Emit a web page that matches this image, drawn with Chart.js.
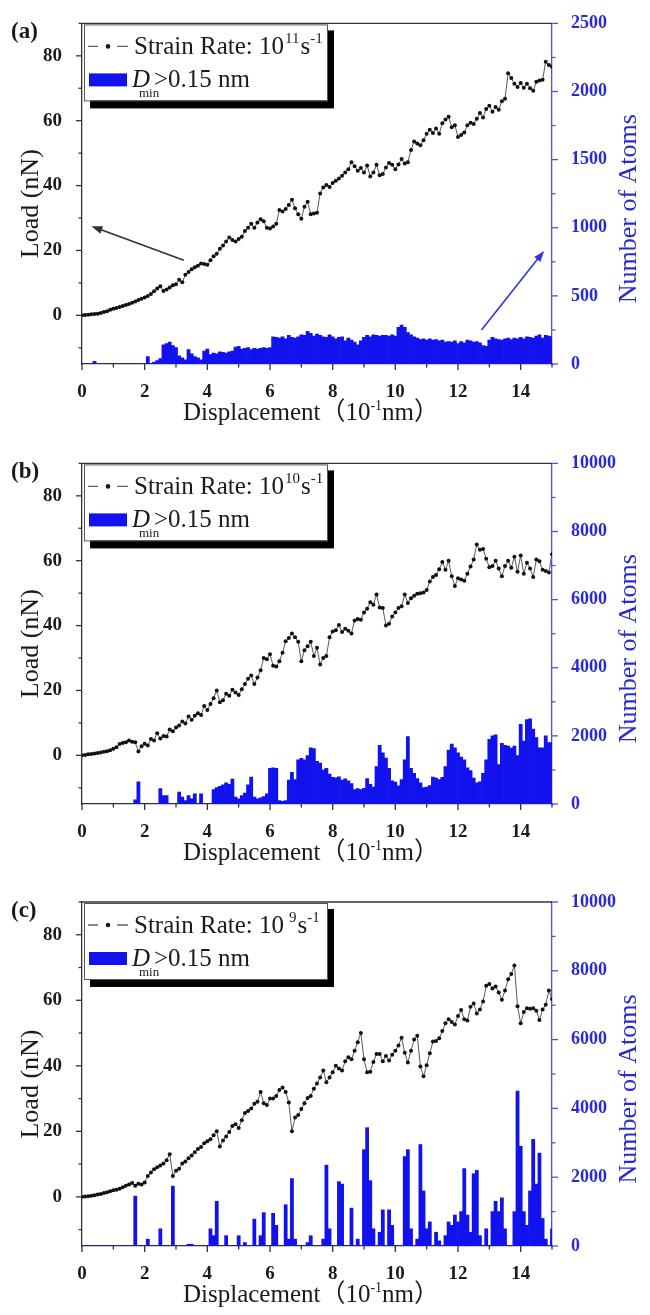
<!DOCTYPE html>
<html>
<head>
<meta charset="utf-8">
<title>Load and atom count vs displacement</title>
<script src="https://cdn.jsdelivr.net/npm/chart.js@4.4.1/dist/chart.umd.min.js"></script>
<style>
  body { margin: 0; background: #fff; }
  .panel { position: absolute; left: 0; width: 650px; }
</style>
</head>
<body>
<div class="panel" style="top:0px"><canvas id="chart-a" width="650" height="440"></canvas></div>
<div class="panel" style="top:440px"><canvas id="chart-b" width="650" height="430"></canvas></div>
<div class="panel" style="top:870px"><canvas id="chart-c" width="650" height="445"></canvas></div>
<script>
// displacement grid (10^-1 nm)
const displacement = [
    0, 0.1, 0.2, 0.3, 0.4, 0.5, 0.6, 0.7, 0.8, 0.9,
    1, 1.1, 1.2, 1.3, 1.4, 1.5, 1.6, 1.7, 1.8, 1.9,
    2, 2.1, 2.2, 2.3, 2.4, 2.5, 2.6, 2.7, 2.8, 2.9,
    3, 3.1, 3.2, 3.3, 3.4, 3.5, 3.6, 3.7, 3.8, 3.9,
    4, 4.1, 4.2, 4.3, 4.4, 4.5, 4.6, 4.7, 4.8, 4.9,
    5, 5.1, 5.2, 5.3, 5.4, 5.5, 5.6, 5.7, 5.8, 5.9,
    6, 6.1, 6.2, 6.3, 6.4, 6.5, 6.6, 6.7, 6.8, 6.9,
    7, 7.1, 7.2, 7.3, 7.4, 7.5, 7.6, 7.7, 7.8, 7.9,
    8, 8.1, 8.2, 8.3, 8.4, 8.5, 8.6, 8.7, 8.8, 8.9,
    9, 9.1, 9.2, 9.3, 9.4, 9.5, 9.6, 9.7, 9.8, 9.9,
    10, 10.1, 10.2, 10.3, 10.4, 10.5, 10.6, 10.7, 10.8, 10.9,
    11, 11.1, 11.2, 11.3, 11.4, 11.5, 11.6, 11.7, 11.8, 11.9,
    12, 12.1, 12.2, 12.3, 12.4, 12.5, 12.6, 12.7, 12.8, 12.9,
    13, 13.1, 13.2, 13.3, 13.4, 13.5, 13.6, 13.7, 13.8, 13.9,
    14, 14.1, 14.2, 14.3, 14.4, 14.5, 14.6, 14.7, 14.8, 14.9,
    15
];

// (a) strain rate 10^11 s^-1
const loadA = [
    0.0, 0.1, 0.2, 0.3, 0.4, 0.5, 0.7, 1.0, 1.3, 1.7,
    2.0, 2.3, 2.6, 2.9, 3.2, 3.5, 3.9, 4.3, 4.7, 5.1,
    5.5, 6.0, 6.6, 7.4, 8.3, 9.0, 7.5, 8.0, 8.6, 9.3,
    9.6, 11.0, 10.2, 12.5, 13.4, 14.2, 14.8, 15.3, 16.0, 15.8,
    15.6, 17.0, 18.2, 19.0, 20.5, 21.5, 22.8, 24.0, 23.2, 22.8,
    23.5, 24.2, 26.0, 27.0, 28.2, 27.0, 28.6, 29.6, 29.0, 27.0,
    26.8, 27.4, 28.2, 32.5, 32.0, 32.8, 34.0, 35.6, 33.0, 31.2,
    29.8, 33.5, 35.0, 31.2, 31.4, 31.6, 37.6, 39.4, 40.2, 39.6,
    40.8, 41.5, 42.2, 43.0, 44.0, 45.0, 47.2, 46.0, 44.6, 45.4,
    44.0, 46.2, 42.8, 44.0, 46.4, 43.2, 43.6, 45.6, 47.0, 46.4,
    45.0, 46.5, 48.2, 46.8, 47.2, 51.0, 53.6, 53.0, 52.4, 54.0,
    56.0, 57.2, 56.2, 57.6, 56.0, 59.2, 60.4, 61.2, 58.0, 58.6,
    55.0, 55.6, 56.4, 58.6, 59.4, 59.0, 60.6, 62.4, 61.0, 63.6,
    64.6, 62.8, 64.2, 63.4, 66.0, 66.8, 74.6, 73.2, 71.4, 70.4,
    71.6, 70.2, 71.4, 70.0, 69.2, 72.0, 72.4, 72.6, 78.2, 77.2,
    76.6
];
const atomsA = [
    0, 0, 0, 0, 20, 0, 0, 0, 0, 0,
    0, 0, 0, 0, 0, 0, 0, 0, 0, 0,
    0, 55, 0, 15, 25, 40, 140, 150, 160, 135,
    120, 60, 45, 30, 105, 75, 55, 45, 30, 95,
    110, 70, 80, 75, 90, 85, 80, 90, 95, 125,
    130, 110, 115, 120, 105, 115, 110, 115, 120, 115,
    120, 200, 195, 190, 200, 185, 210, 195, 190, 200,
    215, 210, 240, 225, 205, 220, 210, 200, 195, 215,
    200, 185, 195, 200, 170, 190, 175, 160, 140, 170,
    195, 210, 200, 215, 210, 205, 210, 210, 205, 215,
    205, 270, 285, 270, 230, 215, 200, 190, 180, 185,
    175, 185, 175, 180, 170, 175, 160, 165, 160, 170,
    150, 165, 155, 175, 170, 160, 165, 155, 135, 130,
    175, 195, 185, 180, 175, 185, 190, 180, 190, 185,
    195, 185, 200, 195, 190, 205, 215, 190, 210, 205,
    200
];

// (b) strain rate 10^10 s^-1
const loadB = [
    0.0, 0.1, 0.3, 0.4, 0.6, 0.7, 0.9, 1.1, 1.3, 1.6,
    2.0, 2.5, 3.5, 3.8, 4.0, 4.6, 4.2, 4.0, 1.2, 2.8,
    3.6, 3.0, 5.0, 4.6, 6.8, 5.2, 6.0, 5.8, 8.0, 7.4,
    8.6, 9.2, 10.4, 9.8, 12.0, 11.0, 12.2, 13.0, 12.4, 15.2,
    14.0, 15.8, 17.6, 20.0, 16.4, 17.0, 19.0, 18.4, 20.2, 19.4,
    18.6, 20.4, 22.0, 23.6, 24.6, 22.0, 24.0, 26.2, 30.0, 29.6,
    31.2, 27.6, 27.4, 29.0, 31.6, 35.2, 36.2, 37.6, 36.4, 35.0,
    29.0, 32.4, 33.6, 35.0, 30.6, 33.2, 28.0, 30.0, 30.6, 36.4,
    38.2, 38.6, 40.2, 38.0, 39.0, 38.4, 37.6, 41.6, 42.0, 41.8,
    44.0, 45.2, 47.2, 46.4, 49.6, 45.6, 45.4, 40.0, 40.6, 42.8,
    44.0, 45.4, 46.0, 49.6, 47.0, 48.4, 49.2, 49.8, 50.0, 50.2,
    51.0, 53.6, 55.0, 55.6, 57.4, 59.6, 57.2, 60.0, 55.2, 52.2,
    54.6, 54.2, 53.8, 56.0, 58.2, 60.4, 65.0, 63.4, 63.6, 60.6,
    58.0, 58.4, 60.0, 57.6, 55.2, 58.4, 60.0, 57.8, 61.2, 56.6,
    61.6, 56.0, 59.4, 57.6, 55.0, 60.4, 59.8, 57.2, 56.8, 56.4,
    62.0
];
const atomsB = [
    0, 0, 0, 0, 0, 0, 0, 0, 0, 0,
    0, 0, 0, 0, 0, 0, 0, 120, 650, 0,
    0, 0, 0, 0, 0, 450, 250, 250, 0, 0,
    0, 350, 200, 100, 250, 150, 300, 0, 300, 0,
    0, 0, 420, 480, 520, 560, 620, 580, 730, 200,
    150, 250, 320, 560, 790, 200, 150, 180, 220, 300,
    1050, 1060, 1050, 100, 80, 100, 700, 930, 720, 1300,
    1340, 1300, 1420, 1650, 1630, 1250, 1200, 1000, 1050, 880,
    780, 770, 800, 700, 740, 680, 600, 420, 450, 420,
    460, 750, 580, 500, 1100, 1720, 1500, 1350, 1050, 680,
    640, 530, 720, 1300, 1980, 1050, 900, 750, 620, 480,
    500, 540, 790, 760, 720, 780, 1100, 1580, 1760, 1650,
    1500, 1380, 1300, 1060, 980, 760, 620, 650, 900, 1300,
    1900, 2000, 2030, 1160, 1780, 1720, 1700, 1640, 1700, 1420,
    2340, 1850, 2480, 2500, 2200, 1950, 1650, 1650, 2000, 1800,
    1800
];

// (c) strain rate 10^9 s^-1
const loadC = [
    0.0, 0.1, 0.2, 0.3, 0.5, 0.7, 0.9, 1.2, 1.4, 1.7,
    2.0, 2.2, 2.5, 2.9, 3.4, 3.8, 4.2, 3.4, 4.0, 3.8,
    4.4, 6.4, 7.4, 8.4, 9.0, 9.6, 10.2, 11.2, 13.0, 6.4,
    8.0, 8.6, 10.2, 10.8, 11.8, 12.6, 13.6, 14.6, 15.2, 16.4,
    17.0, 17.6, 18.8, 20.0, 15.4, 17.2, 18.4, 19.8, 21.6, 22.2,
    21.0, 23.4, 25.6, 26.2, 27.0, 28.4, 29.0, 32.0, 28.6, 28.0,
    30.0, 30.0, 30.8, 32.6, 33.4, 32.0, 28.8, 20.0, 24.2, 25.0,
    26.8, 28.6, 30.2, 30.8, 33.0, 34.6, 36.4, 38.6, 35.0, 36.4,
    38.0, 40.0, 39.2, 38.6, 41.4, 42.6, 42.0, 44.6, 47.2, 50.0,
    42.0, 38.0, 38.2, 41.2, 43.6, 43.6, 41.4, 43.0, 41.6, 43.4,
    44.6, 46.2, 48.6, 44.0, 41.0, 44.6, 48.0, 49.2, 39.8, 36.8,
    40.2, 43.8, 47.4, 47.6, 48.4, 50.6, 53.0, 54.2, 53.4, 52.6,
    55.2, 57.0, 54.2, 53.8, 58.0, 59.0, 56.0, 57.2, 59.6, 64.4,
    65.0, 63.6, 64.2, 62.4, 60.2, 63.0, 66.4, 68.0, 70.6, 58.2,
    53.0, 56.4, 57.6, 57.4, 57.6, 56.8, 54.0, 57.2, 58.6, 63.0,
    60.4
];
const atomsC = [
    0, 0, 0, 0, 0, 0, 0, 0, 0, 0,
    0, 0, 0, 0, 0, 0, 0, 1450, 0, 0,
    0, 200, 0, 0, 0, 500, 0, 0, 0, 1740,
    0, 0, 0, 0, 50, 50, 0, 0, 0, 0,
    0, 500, 300, 1300, 0, 0, 300, 0, 0, 0,
    300, 0, 100, 0, 0, 780, 0, 300, 970, 0,
    0, 950, 600, 0, 0, 1200, 200, 1960, 200, 0,
    0, 0, 100, 300, 0, 0, 0, 200, 2350, 500,
    0, 0, 1870, 1800, 0, 0, 1100, 0, 200, 0,
    2800, 3440, 1900, 500, 0, 400, 1050, 0, 1050, 600,
    0, 0, 0, 2600, 2800, 500, 0, 200, 2950, 1600,
    500, 700, 0, 400, 150, 0, 300, 700, 600, 900,
    700, 1000, 2250, 900, 400, 2100, 2200, 300, 0, 500,
    0, 1000, 1300, 1000, 1400, 500, 0, 0, 1000, 4500,
    2900, 1000, 600, 1600, 3100, 1800, 2700, 800, 200, 0,
    500
];

// ticks
const dispTicks = [0, 1, 2, 3, 4, 5, 6, 7, 8, 9, 10, 11, 12, 13, 14, 15];
const loadTicks = [-10, 0, 10, 20, 30, 40, 50, 60, 70, 80, 90];
const atomTicksA = [0, 250, 500, 750, 1000, 1250, 1500, 1750, 2000, 2250, 2500];
const atomTicksBC = [0, 1000, 2000, 3000, 4000, 5000, 6000, 7000, 8000, 9000, 10000];
const rateExponents = ["11", "10", "9"];

const SERIF = "'Liberation Serif', 'Times New Roman', 'Noto Sans CJK SC', serif";
const INK = "#1a1a1a";
const AXIS_BLUE = "#5050e8";
const LABEL_BLUE = "#2a2ad2";
const BAR_BLUE = "#1212ee";

function arrow(ctx, x1, y1, x2, y2, color) {
    const ang = Math.atan2(y2 - y1, x2 - x1);
    ctx.strokeStyle = color;
    ctx.fillStyle = color;
    ctx.lineWidth = 1.6;
    ctx.beginPath();
    ctx.moveTo(x1, y1);
    ctx.lineTo(x2 - 6 * Math.cos(ang), y2 - 6 * Math.sin(ang));
    ctx.stroke();
    ctx.beginPath();
    ctx.moveTo(x2, y2);
    ctx.lineTo(x2 - 11 * Math.cos(ang) + 4 * Math.sin(ang), y2 - 11 * Math.sin(ang) - 4 * Math.cos(ang));
    ctx.lineTo(x2 - 11 * Math.cos(ang) - 4 * Math.sin(ang), y2 - 11 * Math.sin(ang) + 4 * Math.cos(ang));
    ctx.closePath();
    ctx.fill();
}

// draws text pieces one after another (for super/subscripts)
function richText(ctx, x, y, parts) {
    parts.forEach((p) => {
        ctx.font = (p.style || "") + " " + p.size + "px " + SERIF;
        x += p.dx || 0;
        ctx.fillText(p.text, x, y + (p.dy || 0));
        x += ctx.measureText(p.text).width;
    });
    return x;
}

function textWidth(ctx, parts) {
    let w = 0;
    parts.forEach((p) => {
        ctx.font = (p.style || "") + " " + p.size + "px " + SERIF;
        w += ctx.measureText(p.text).width + (p.dx || 0);
    });
    return w;
}

function tickMarks(ctx, scale, side, isMajor, color) {
    ctx.strokeStyle = color;
    ctx.lineWidth = 1.3;
    scale.ticks.forEach((t) => {
        const p = scale.getPixelForValue(t.value);
        const len = isMajor(t.value) ? 6 : 3.5;
        ctx.beginPath();
        if (side === "left") {
            ctx.moveTo(scale.right, p);
            ctx.lineTo(scale.right - len, p);
        } else if (side === "right") {
            ctx.moveTo(scale.left, p);
            ctx.lineTo(scale.left + len, p);
        } else {
            ctx.moveTo(p, scale.top);
            ctx.lineTo(p, scale.top + len);
        }
        ctx.stroke();
    });
}

const panelDecor = {
    id: "panelDecor",
    afterDraw(chart, args, opts) {
        const { ctx, chartArea: a, scales } = chart;
        ctx.save();

        // frame top line
        ctx.strokeStyle = "#333";
        ctx.lineWidth = 1.3;
        ctx.beginPath();
        ctx.moveTo(a.left, a.top);
        ctx.lineTo(a.right, a.top);
        ctx.stroke();

        tickMarks(ctx, scales.y, "left", (v) => v % 20 === 0, "#333");
        tickMarks(ctx, scales.x, "bottom", (v) => v % 2 === 0, "#333");
        tickMarks(ctx, scales.y2, "right", (v) => v % opts.atomMajor === 0, AXIS_BLUE);

        // panel tag
        ctx.fillStyle = INK;
        ctx.textAlign = "left";
        ctx.textBaseline = "alphabetic";
        ctx.font = "bold 23px " + SERIF;
        ctx.fillText(opts.tag, 11, a.top + 15);

        // axis titles
        const midY = (a.top + a.bottom) / 2;
        ctx.save();
        ctx.translate(31, midY + 10);
        ctx.rotate(-Math.PI / 2);
        ctx.textAlign = "center";
        ctx.textBaseline = "middle";
        ctx.font = "26px " + SERIF;
        ctx.fillText("Load (nN)", 0, 0);
        ctx.restore();

        ctx.save();
        ctx.translate(629, midY + 15);
        ctx.rotate(-Math.PI / 2);
        ctx.textAlign = "center";
        ctx.textBaseline = "middle";
        ctx.fillStyle = LABEL_BLUE;
        ctx.font = "26px " + SERIF;
        ctx.fillText("Number of Atoms", 0, 0);
        ctx.restore();

        const xTitle = [
            { text: "Displacement（10", size: 25 },
            { text: "-1", size: 14, dy: -10 },
            { text: "nm）", size: 25 },
        ];
        ctx.fillStyle = INK;
        richText(ctx, 311 - textWidth(ctx, xTitle) / 2, a.bottom + 56, xTitle);

        // legend box with shadow
        const bx = a.left + 2, by = a.top + 1, bw = 243, bh = 76;
        ctx.fillStyle = "#000";
        ctx.fillRect(bx + 6, by + 6, bw + 1, bh + 2);
        ctx.fillStyle = "#fff";
        ctx.fillRect(bx, by, bw, bh);
        ctx.strokeStyle = "#555";
        ctx.lineWidth = 1;
        ctx.strokeRect(bx + 0.5, by + 0.5, bw, bh);

        ctx.strokeStyle = "#666";
        ctx.lineWidth = 1.3;
        ctx.beginPath();
        ctx.moveTo(bx + 4, by + 22);
        ctx.lineTo(bx + 14, by + 22);
        ctx.moveTo(bx + 33, by + 22);
        ctx.lineTo(bx + 44, by + 22);
        ctx.stroke();
        ctx.fillStyle = INK;
        ctx.beginPath();
        ctx.arc(bx + 24, by + 22, 2.3, 0, Math.PI * 2);
        ctx.fill();

        richText(ctx, bx + 50, by + 30, [
            { text: "Strain Rate: 10", size: 25 },
            { text: opts.exponent, size: 15, dy: -11, dx: opts.exponent.length === 1 ? 5 : 1 },
            { text: "s", size: 25, dx: 1 },
            { text: "-1", size: 15, dy: -11 },
        ]);

        ctx.fillStyle = BAR_BLUE;
        ctx.fillRect(bx + 5, by + 49, 38, 13);
        ctx.fillStyle = INK;
        richText(ctx, bx + 48, by + 63, [{ text: "D", size: 25, style: "italic" }]);
        richText(ctx, bx + 55, by + 73, [{ text: "min", size: 13 }]);
        richText(ctx, bx + 70, by + 63, [{ text: ">0.15 nm", size: 25 }]);

        // pointer arrows (given in data units)
        (opts.arrows || []).forEach((ar) => {
            const ys = scales[ar.axis];
            arrow(ctx,
                scales.x.getPixelForValue(ar.from[0]), ys.getPixelForValue(ar.from[1]),
                scales.x.getPixelForValue(ar.to[0]), ys.getPixelForValue(ar.to[1]),
                ar.color);
        });

        ctx.restore();
    },
};

function makePanel(id, p) {
    const el = document.getElementById(id);
    const tickFont = { family: SERIF, size: 19, weight: "bold" };
    return new Chart(el.getContext("2d"), {
        type: "bar",
        data: {
            labels: displacement,
            datasets: [
                {
                    type: "line",
                    data: p.load,
                    yAxisID: "y",
                    borderColor: "#5a5a5a",
                    borderWidth: 1,
                    pointRadius: 2,
                    pointBackgroundColor: "#111",
                    pointBorderWidth: 0,
                    tension: 0,
                    order: 0,
                },
                {
                    type: "bar",
                    data: p.atoms,
                    yAxisID: "y2",
                    backgroundColor: BAR_BLUE,
                    borderWidth: 0,
                    barPercentage: 1,
                    categoryPercentage: 1,
                    clip: 0,
                    order: 1,
                },
            ],
        },
        options: {
            responsive: false,
            animation: false,
            layout: { padding: { top: p.padTop, left: 0, right: 0, bottom: 0 } },
            plugins: {
                legend: { display: false },
                tooltip: { enabled: false },
                panelDecor: {
                    tag: p.tag,
                    exponent: p.exponent,
                    atomMajor: p.atomMajor,
                    arrows: p.arrows,
                },
            },
            scales: {
                x: {
                    type: "linear",
                    offset: false,
                    min: 0,
                    max: 15,
                    afterBuildTicks: (s) => { s.ticks = dispTicks.map((v) => ({ value: v })); },
                    afterFit: (s) => { s.height = p.xHeight; },
                    grid: { display: false },
                    border: { display: true, color: "#333", width: 1.3 },
                    ticks: {
                        autoSkip: false,
                        maxRotation: 0,
                        padding: 9,
                        color: INK,
                        font: tickFont,
                        callback: (v) => (v % 2 === 0 && v < 15 ? v : ""),
                    },
                },
                y: {
                    position: "left",
                    min: -15,
                    max: 90,
                    afterBuildTicks: (s) => { s.ticks = loadTicks.map((v) => ({ value: v })); },
                    afterFit: (s) => { s.width = 82; },
                    grid: { display: false },
                    border: { display: true, color: "#333", width: 1.3 },
                    ticks: {
                        autoSkip: false,
                        padding: 12,
                        color: INK,
                        font: tickFont,
                        callback: (v) => (v % 20 === 0 && v >= 0 && v <= 80 ? v : ""),
                    },
                },
                y2: {
                    position: "right",
                    min: 0,
                    max: p.atomTicks[p.atomTicks.length - 1],
                    afterBuildTicks: (s) => { s.ticks = p.atomTicks.map((v) => ({ value: v })); },
                    afterFit: (s) => { s.width = 98; },
                    grid: { display: false },
                    border: { display: true, color: AXIS_BLUE, width: 1.3 },
                    ticks: {
                        autoSkip: false,
                        padding: 11,
                        color: LABEL_BLUE,
                        font: { family: SERIF, size: 18, weight: "bold" },
                        callback: (v) => (v % p.atomMajor === 0 ? v : ""),
                    },
                },
            },
        },
        plugins: [panelDecor],
    });
}

makePanel("chart-a", {
    tag: "(a)", exponent: rateExponents[0], load: loadA, atoms: atomsA,
    atomTicks: atomTicksA, atomMajor: 500, padTop: 20, xHeight: 76,
    arrows: [
        { from: [3.25, 17], to: [0.3, 27.5], axis: "y", color: "#333" },
        { from: [12.75, 250], to: [14.75, 830], axis: "y2", color: "#3434dc" },
    ],
});
makePanel("chart-b", {
    tag: "(b)", exponent: rateExponents[1], load: loadB, atoms: atomsB,
    atomTicks: atomTicksBC, atomMajor: 2000, padTop: 20, xHeight: 66,
});
makePanel("chart-c", {
    tag: "(c)", exponent: rateExponents[2], load: loadC, atoms: atomsC,
    atomTicks: atomTicksBC, atomMajor: 2000, padTop: 32, xHeight: 69,
});
</script>
</body>
</html>
